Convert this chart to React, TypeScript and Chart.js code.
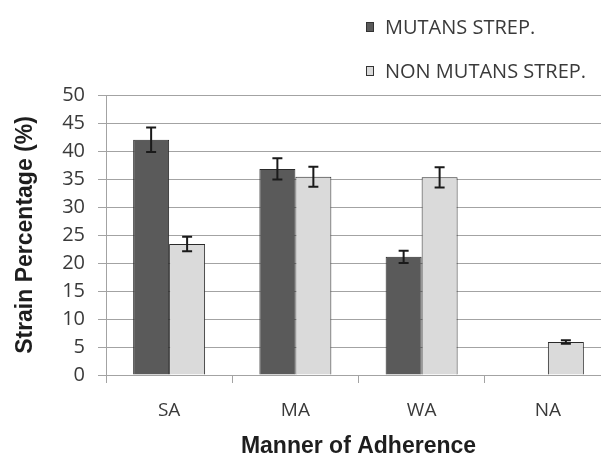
import { useEffect, useRef } from 'react';
import { Chart, registerables } from 'chart.js';

Chart.register(...registerables);

const categories = ['SA', 'MA', 'WA', 'NA'];
const seriesNames = ['MUTANS STREP.', 'NON MUTANS STREP.'];
const mutansValues = [42.0, 36.8, 21.1, 0];
const mutansErrors = [2.2, 1.9, 1.1, 0];
const nonMutansValues = [23.4, 35.4, 35.3, 5.9];
const nonMutansErrors = [1.3, 1.8, 1.8, 0.3];
const yMin = 0;
const yMax = 50;
const yStep = 5;
const yAxisTitle = 'Strain Percentage (%)';
const xAxisTitle = 'Manner of Adherence';

const DARK = '#5a5a5a';
const LIGHT = '#dadada';
const GRID = '#a3a3a3';
const TEXT = '#3a3a3a';

const errorBarPlugin = {
  id: 'errorBars',
  afterDatasetsDraw(chart: any) {
    const ctx = chart.ctx;
    const yScale = chart.scales.y;
    ctx.save();
    ctx.strokeStyle = '#1a1a1a';
    ctx.lineWidth = 2;
    chart.data.datasets.forEach((ds: any, i: number) => {
      const meta = chart.getDatasetMeta(i);
      meta.data.forEach((bar: any, j: number) => {
        const v = ds.data[j];
        const e = ds.errors ? ds.errors[j] : 0;
        if (!e) return;
        const x = bar.x;
        const yTop = yScale.getPixelForValue(v + e);
        const yBot = yScale.getPixelForValue(v - e);
        const cap = 5;
        ctx.beginPath();
        ctx.moveTo(x, yTop);
        ctx.lineTo(x, yBot);
        ctx.moveTo(x - cap, yTop);
        ctx.lineTo(x + cap, yTop);
        ctx.moveTo(x - cap, yBot);
        ctx.lineTo(x + cap, yBot);
        ctx.stroke();
      });
    });
    ctx.restore();
  },
};

const legendPlugin = {
  id: 'stackedLegend',
  afterDraw(chart: any) {
    const ctx = chart.ctx;
    const rowsY = [27, 71];
    const boxX = 366;
    const boxW = 8;
    const boxH = 10;
    const textX = 385;
    ctx.save();
    ctx.font = '20px "Open Sans"';
    ctx.textBaseline = 'middle';
    ctx.textAlign = 'left';
    chart.data.datasets.forEach((ds: any, i: number) => {
      const y = rowsY[i];
      ctx.fillStyle = ds.backgroundColor;
      ctx.fillRect(boxX, y - boxH / 2, boxW, boxH);
      ctx.strokeStyle = '#333333';
      ctx.lineWidth = 1;
      ctx.strokeRect(boxX + 0.5, y - boxH / 2 + 0.5, boxW - 1, boxH - 1);
      ctx.fillStyle = TEXT;
      ctx.fillText(ds.label, textX, y + 1);
    });
    ctx.restore();
  },
};

export default function App() {
  const canvasRef = useRef<HTMLCanvasElement | null>(null);

  useEffect(() => {
    const canvas = canvasRef.current;
    if (!canvas) return;
    const chart = new Chart(canvas, {
      type: 'bar',
      data: {
        labels: categories,
        datasets: [
          {
            label: seriesNames[0],
            data: mutansValues,
            errors: mutansErrors,
            backgroundColor: DARK,
            borderColor: '#2a2a2a',
            borderWidth: 1,
            categoryPercentage: 0.57,
            barPercentage: 1.0,
          } as any,
          {
            label: seriesNames[1],
            data: nonMutansValues,
            errors: nonMutansErrors,
            backgroundColor: LIGHT,
            borderColor: '#2a2a2a',
            borderWidth: 1,
            categoryPercentage: 0.57,
            barPercentage: 1.0,
          } as any,
        ],
      },
      options: {
        responsive: false,
        animation: false,
        devicePixelRatio: 1,
        layout: { padding: { top: 95, right: 9, left: 0, bottom: 0 } },
        plugins: {
          legend: { display: false },
          tooltip: { enabled: false },
        },
        scales: {
          x: {
            afterFit: (scale: any) => {
              scale.height = 80;
            },
            grid: {
              display: true,
              drawOnChartArea: false,
              drawTicks: true,
              tickLength: 8,
              offset: true,
              color: GRID,
            },
            border: { display: true, color: GRID },
            ticks: {
              color: TEXT,
              font: { family: '"Open Sans"', size: 19 },
              padding: 16,
              maxRotation: 0,
            },
            title: {
              display: true,
              text: xAxisTitle,
              color: '#1e1e1e',
              font: { family: '"Liberation Sans", Arial', size: 23, weight: 'bold', lineHeight: 1 },
              padding: { top: 0, bottom: -3 },
            },
          },
          y: {
            min: yMin,
            max: yMax,
            afterFit: (scale: any) => {
              scale.width = 106;
            },
            grid: {
              color: GRID,
              drawTicks: true,
              tickLength: 8,
            },
            border: { display: true, color: GRID },
            ticks: {
              stepSize: yStep,
              color: TEXT,
              font: { family: '"Open Sans"', size: 20 },
              padding: 13,
            },
            title: {
              display: true,
              text: yAxisTitle,
              color: '#1e1e1e',
              font: { family: '"Liberation Sans", Arial', size: 23, weight: 'bold', lineHeight: 1 },
              padding: { top: 14, bottom: 0 },
            },
          },
        },
      },
      plugins: [errorBarPlugin, legendPlugin],
    });
    return () => chart.destroy();
  }, []);

  return (
    <div
      style={{
        position: 'fixed',
        left: 0,
        top: 0,
        width: 601,
        height: 455,
        overflow: 'hidden',
        background: '#ffffff',
      }}
    >
      <canvas ref={canvasRef} width={620} height={455} style={{ display: 'block' }} />
    </div>
  );
}
